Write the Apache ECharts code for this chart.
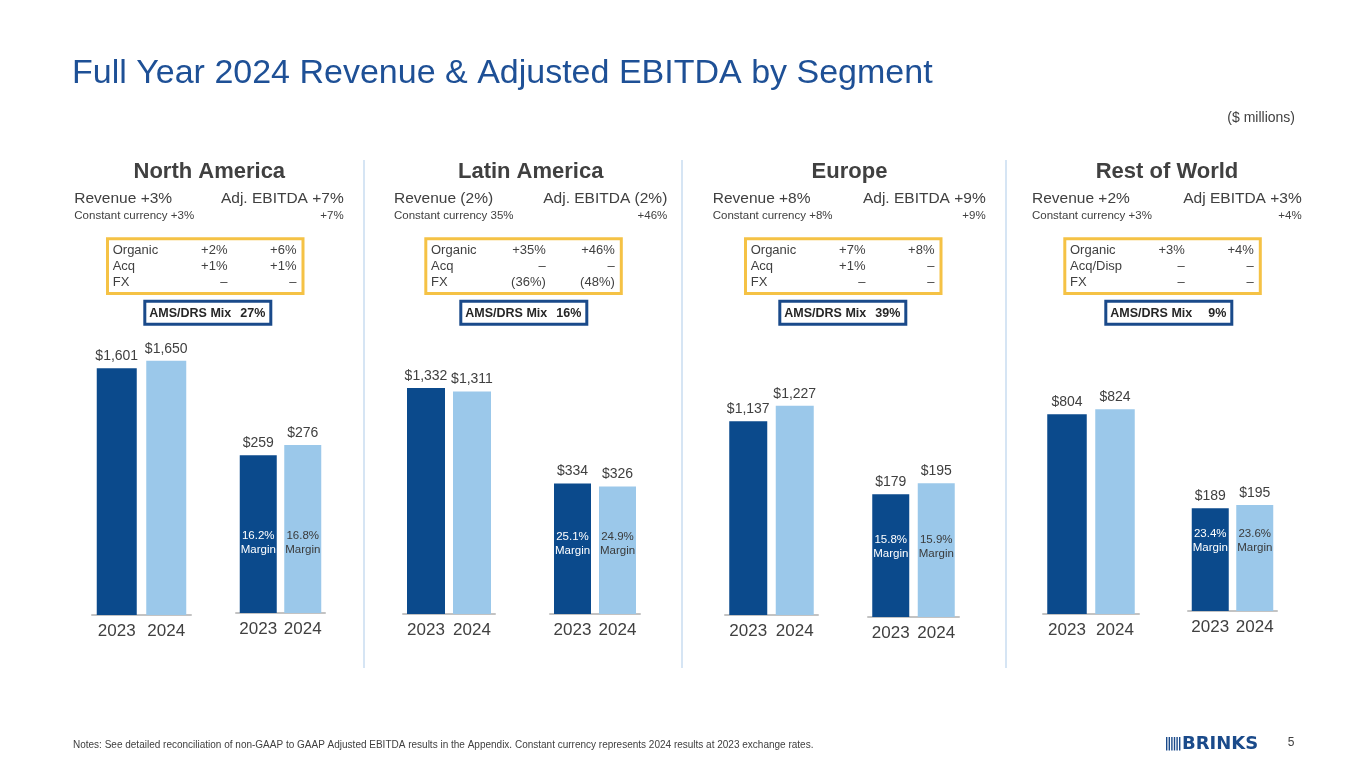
<!DOCTYPE html>
<html>
<head>
<meta charset="utf-8">
<script src="https://cdn.jsdelivr.net/npm/echarts@6.0.0/dist/echarts.min.js"></script>
<style>
html,body{margin:0;padding:0;background:#fff;}
#chart{width:1365px;height:768px;}
</style>
</head>
<body>
<div id="chart"></div>
<script>
// ---------------- DATA ----------------
const segments = ['North America', 'Latin America', 'Europe', 'Rest of World'];
const years = ['2023', '2024'];
const revenue2023 = [1601, 1332, 1137, 804];
const revenue2024 = [1650, 1311, 1227, 824];
const ebitda2023 = [259, 334, 179, 189];
const ebitda2024 = [276, 326, 195, 195];
const margin2023 = [16.2, 25.1, 15.8, 23.4];
const margin2024 = [16.8, 24.9, 15.9, 23.6];
const revenueGrowth = ['+3%', '(2%)', '+8%', '+2%'];
const ebitdaTitle = ['Adj. EBITDA', 'Adj. EBITDA', 'Adj. EBITDA', 'Adj EBITDA'];
const ebitdaGrowth = ['+7%', '(2%)', '+9%', '+3%'];
const constCurrencyRevenue = ['+3%', '35%', '+8%', '+3%'];
const constCurrencyEbitda = ['+7%', '+46%', '+9%', '+4%'];
const bridgeRowNames = [
  ['Organic', 'Acq', 'FX'],
  ['Organic', 'Acq', 'FX'],
  ['Organic', 'Acq', 'FX'],
  ['Organic', 'Acq/Disp', 'FX']
];
const bridgeRevenue = [
  ['+2%', '+1%', '–'],
  ['+35%', '–', '(36%)'],
  ['+7%', '+1%', '–'],
  ['+3%', '–', '–']
];
const bridgeEbitda = [
  ['+6%', '+1%', '–'],
  ['+46%', '–', '(48%)'],
  ['+8%', '–', '–'],
  ['+4%', '–', '–']
];
const amsDrsMix = ['27%', '16%', '39%', '9%'];

// ---------------- STYLE / LAYOUT ----------------
const FONT = "'Liberation Sans', Arial, sans-serif";
const DARK = '#0b4a8c';
const LIGHT = '#9bc8ea';
const TEXT = '#404040';
const TITLE = '#1e5096';
const YELLOW = '#f5c245';
const NAVY = '#1a4a8a';
const GRID_TOP = 330;

const layout = [
  {hx: 209.3, tl: 74.3, tr: 343.7, yb: 106, nb: 143.3,
   rev: {l: 92, r: 191, base: 615, scale: 0.1541, bw: 40},
   eb: {l: 236, r: 325, base: 613, scale: 0.609, bw: 37}},
  {hx: 530.7, tl: 394, tr: 667.3, yb: 424.3, nb: 459.3,
   rev: {l: 403, r: 495, base: 614, scale: 0.1697, bw: 38},
   eb: {l: 550, r: 640, base: 614, scale: 0.391, bw: 37}},
  {hx: 849.5, tl: 712.7, tr: 985.7, yb: 744, nb: 778.3,
   rev: {l: 725, r: 818, base: 615, scale: 0.1705, bw: 38},
   eb: {l: 868, r: 959, base: 617, scale: 0.686, bw: 37}},
  {hx: 1167, tl: 1032, tr: 1301.7, yb: 1063.3, nb: 1104.3,
   rev: {l: 1043, r: 1139, base: 614, scale: 0.2484, bw: 39.5},
   eb: {l: 1188, r: 1277, base: 611, scale: 0.543, bw: 37}}
];
const separatorsX = [364, 682, 1006];

function money(v) { return '$' + v.toLocaleString('en-US'); }

const grids = [], xAxes = [], yAxes = [], series = [];

function addGrid(g, vals, isEbitda, margins) {
  const idx = grids.length;
  grids.push({left: g.l, width: g.r - g.l, top: GRID_TOP, height: g.base - GRID_TOP});
  xAxes.push({
    gridIndex: idx, type: 'category', data: years,
    axisLine: {show: true, lineStyle: {color: '#c3c3c3', width: 2}},
    axisTick: {show: false},
    axisLabel: {fontSize: 17, color: TEXT, fontFamily: FONT, margin: 8, interval: 0}
  });
  yAxes.push({gridIndex: idx, type: 'value', min: 0, max: (g.base - GRID_TOP) / g.scale, show: false, splitLine: {show: false}});
  series.push({
    type: 'bar', xAxisIndex: idx, yAxisIndex: idx, barWidth: g.bw, barGap: '-100%', silent: true,
    data: [
      {value: vals[0], itemStyle: {color: DARK}},
      {value: vals[1], itemStyle: {color: LIGHT}}
    ],
    label: {show: true, position: 'top', distance: 5, fontSize: 14, color: TEXT, fontFamily: FONT,
      formatter: p => money(p.value)}
  });
  if (isEbitda) {
    series.push({
      type: 'bar', xAxisIndex: idx, yAxisIndex: idx, barWidth: g.bw, barGap: '-100%', silent: true,
      data: [
        {value: vals[0], label: {color: '#ffffff'}, m: margins[0]},
        {value: vals[1], label: {color: '#3a3a3a'}, m: margins[1]}
      ],
      itemStyle: {color: 'rgba(0,0,0,0)'},
      label: {show: true, position: 'insideBottom', distance: 56, fontSize: 11.5, lineHeight: 14,
        fontFamily: FONT, formatter: p => p.data.m.toFixed(1) + '%\nMargin'}
    });
  }
}

segments.forEach((s, i) => {
  addGrid(layout[i].rev, [revenue2023[i], revenue2024[i]], false);
  addGrid(layout[i].eb, [ebitda2023[i], ebitda2024[i]], true, [margin2023[i], margin2024[i]]);
});

// ---------------- GRAPHICS (text / boxes) ----------------
const graphic = [];
function txt(x, y, text, size, opts) {
  opts = opts || {};
  graphic.push({
    type: 'text', x: x, y: y, silent: true,
    style: {
      text: text, fill: opts.color || TEXT, fontSize: size,
      fontFamily: opts.family || FONT, fontWeight: opts.weight || 'normal',
      align: opts.align || 'left', verticalAlign: 'middle'
    }
  });
}

txt(72, 74, 'Full Year 2024 Revenue & Adjusted EBITDA by Segment', 34, {color: TITLE});
txt(1295, 118, '($ millions)', 14, {align: 'right'});

separatorsX.forEach(x => {
  graphic.push({type: 'line', silent: true, shape: {x1: x, y1: 160, x2: x, y2: 668},
    style: {stroke: '#c8dcf0', lineWidth: 1.5}});
});

segments.forEach((s, i) => {
  const L = layout[i];
  txt(L.hx, 172, s, 22, {weight: 'bold', align: 'center'});
  txt(L.tl, 199, 'Revenue ' + revenueGrowth[i], 15.5);
  txt(L.tr, 199, ebitdaTitle[i] + ' ' + ebitdaGrowth[i], 15.5, {align: 'right'});
  txt(L.tl, 216, 'Constant currency ' + constCurrencyRevenue[i], 11.5);
  txt(L.tr, 216, constCurrencyEbitda[i], 11.5, {align: 'right'});
  // yellow bridge box
  graphic.push({type: 'rect', silent: true,
    shape: {x: L.yb + 1.5, y: 238.8, width: 195.5, height: 54.7},
    style: {fill: 'none', stroke: YELLOW, lineWidth: 3}});
  const rowsY = [250, 266, 282];
  rowsY.forEach((y, r) => {
    txt(L.yb + 6.7, y, bridgeRowNames[i][r], 13);
    txt(L.yb + 121.5, y, bridgeRevenue[i][r], 13, {align: 'right'});
    txt(L.yb + 190.5, y, bridgeEbitda[i][r], 13, {align: 'right'});
  });
  // navy AMS/DRS box
  graphic.push({type: 'rect', silent: true,
    shape: {x: L.nb + 1.5, y: 301.2, width: 126, height: 23},
    style: {fill: 'none', stroke: NAVY, lineWidth: 3}});
  txt(L.nb + 6, 313.5, 'AMS/DRS Mix', 12.5, {weight: 'bold', color: '#262626'});
  txt(L.nb + 122, 313.5, amsDrsMix[i], 12.5, {weight: 'bold', color: '#262626', align: 'right'});
});

// footer
txt(73, 745, 'Notes: See detailed reconciliation of non-GAAP to GAAP Adjusted EBITDA results in the Appendix. Constant currency represents 2024 results at 2023 exchange rates.', 10);
txt(1291, 743, '5', 12, {align: 'center'});
// logo
for (let k = 0; k < 6; k++) {
  graphic.push({type: 'rect', silent: true, shape: {x: 1166 + k * 2.6, y: 737, width: 1.4, height: 13.5},
    style: {fill: NAVY}});
}
txt(1182, 744, 'BRINKS', 18, {weight: 'bold', color: NAVY, family: "'DejaVu Sans', sans-serif"});

const chart = echarts.init(document.getElementById('chart'), null, {renderer: 'canvas'});
chart.setOption({
  backgroundColor: '#ffffff',
  animation: false,
  grid: grids,
  xAxis: xAxes,
  yAxis: yAxes,
  series: series,
  graphic: graphic
});
</script>
</body>
</html>
